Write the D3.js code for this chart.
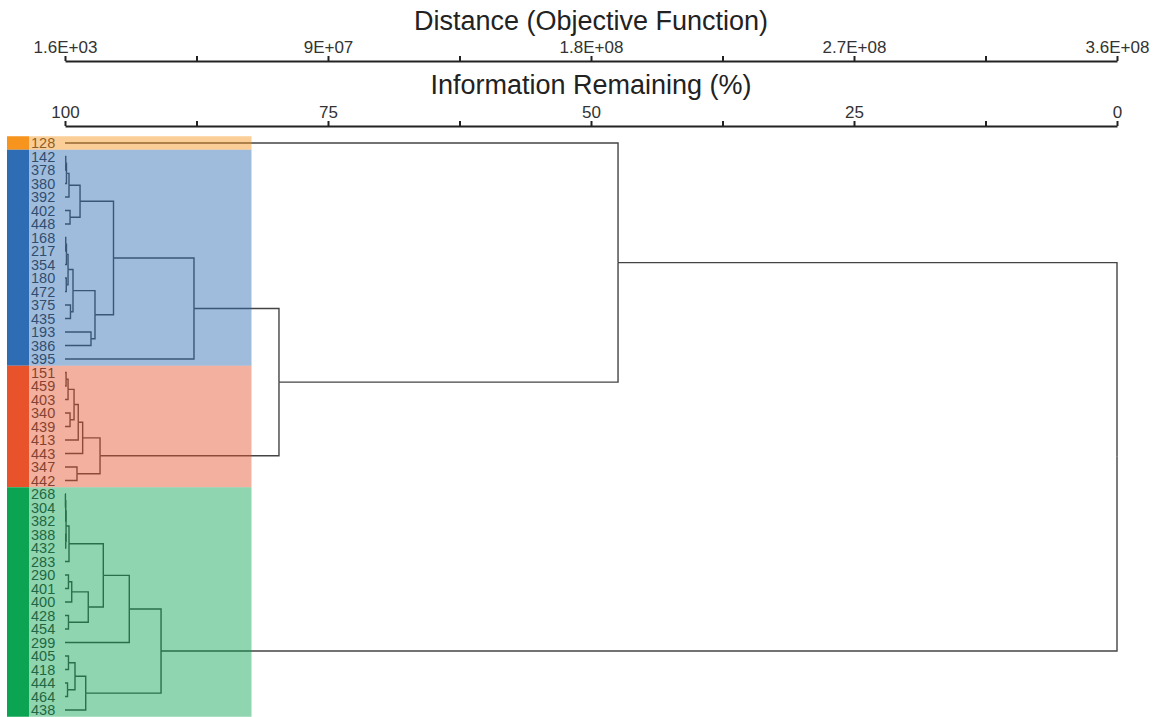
<!DOCTYPE html>
<html>
<head>
<meta charset="utf-8">
<script src="https://cdn.jsdelivr.net/npm/d3@7"></script>
<style>
  html, body { margin: 0; padding: 0; background: #fff; }
  svg { display: block; font-family: "Liberation Sans", Arial, sans-serif; }
</style>
</head>
<body>
<svg id="chart" width="1157" height="717"></svg>
<script>
// ---- Data -----------------------------------------------------------------
// Leaf order, top to bottom.
const leaves = [
  "128",
  "142", "378", "380", "392", "402", "448", "168", "217", "354", "180", "472", "375", "435", "193", "386", "395",
  "151", "459", "403", "340", "439", "413", "443", "347", "442",
  "268", "304", "382", "388", "432", "283", "290", "401", "400", "428", "454", "299", "405", "418", "444", "464", "438"
];

// Number of consecutive leaves in each cluster group.
const clusterSizes = [1, 16, 9, 17];

// Linkage: [left, right, information remaining (%) at the join]; the i-th row creates node "m" + i.
const merges = [
  ["142", "378", 99.93],   // m0
  ["m0", "380", 99.86],    // m1
  ["m1", "392", 99.62],    // m2
  ["402", "448", 99.52],   // m3
  ["m2", "m3", 98.57],     // m4
  ["168", "217", 99.93],   // m5
  ["m5", "354", 99.86],    // m6
  ["180", "472", 99.88],   // m7
  ["m6", "m7", 99.71],     // m8
  ["375", "435", 99.48],   // m9
  ["m8", "m9", 99.24],     // m10
  ["193", "386", 97.53],   // m11
  ["m10", "m11", 97.15],   // m12
  ["m4", "m12", 95.39],    // m13
  ["m13", "395", 87.74],   // m14
  ["151", "459", 99.90],   // m15
  ["m15", "403", 99.71],   // m16
  ["340", "439", 99.52],   // m17
  ["m16", "m17", 99.14],   // m18
  ["m18", "413", 98.74],   // m19
  ["m19", "443", 98.32],   // m20
  ["347", "442", 98.86],   // m21
  ["m20", "m21", 96.67],   // m22
  ["m14", "m22", 79.66],   // m23
  ["128", "m23", 47.43],   // m24
  ["268", "304", 99.96],   // m25
  ["m25", "382", 99.93],   // m26
  ["388", "432", 99.93],   // m27
  ["m26", "m27", 99.90],   // m28
  ["m28", "283", 99.62],   // m29
  ["290", "401", 99.67],   // m30
  ["m30", "400", 99.36],   // m31
  ["428", "454", 99.67],   // m32
  ["m31", "m32", 97.79],   // m33
  ["m29", "m33", 96.36],   // m34
  ["m34", "299", 93.89],   // m35
  ["405", "418", 99.67],   // m36
  ["444", "464", 99.76],   // m37
  ["m36", "m37", 99.05],   // m38
  ["m38", "438", 98.03],   // m39
  ["m35", "m39", 90.87],   // m40
  ["m24", "m40", 0.0]      // m41 (root)
];

// Axis ticks (blank label = minor tick).
const distTickValues = [1600, 4.5e7, 9e7, 1.35e8, 1.8e8, 2.25e8, 2.7e8, 3.15e8, 3.6e8];
const distTickLabels = ["1.6E+03", "", "9E+07", "", "1.8E+08", "", "2.7E+08", "", "3.6E+08"];
const infoTickValues = [100, 87.5, 75, 62.5, 50, 37.5, 25, 12.5, 0];
const infoTickLabels = ["100", "", "75", "", "50", "", "25", "", "0"];

const distTitle = "Distance (Objective Function)";
const infoTitle = "Information Remaining (%)";

// ---- Styling --------------------------------------------------------------
const clusterColors = ["#F7941D", "#2E6DB4", "#E8532B", "#0BA452"];
const bandOpacity = 0.46;
const lineColor = "#444";

// ---- Scales ---------------------------------------------------------------
const svg = d3.select("#chart");
const left = 65, right = 1117;
const xInfo = d3.scaleLinear().domain([100, 0]).range([left, right]);
const xDist = d3.scaleLinear().domain([1600, 3.6e8]).range([left, right]);
const y = d3.scalePoint().domain(leaves).range([143, 710]);
const step = y.step();

// ---- Build tree -----------------------------------------------------------
const nodes = new Map();
leaves.forEach(l => nodes.set(l, { id: l, h: 100, y: y(l) }));
merges.forEach(([a, b, h], i) => {
  const A = nodes.get(a), B = nodes.get(b);
  nodes.set("m" + i, { id: "m" + i, h, y: (A.y + B.y) / 2, children: [A, B] });
});
const root = d3.hierarchy(nodes.get("m" + (merges.length - 1)), d => d.children);

// ---- Dendrogram lines -----------------------------------------------------
svg.append("g")
  .attr("fill", "none")
  .attr("stroke", lineColor)
  .attr("stroke-width", 1.4)
  .selectAll("path")
  .data(root.links())
  .join("path")
  .attr("d", l => `M${xInfo(l.target.data.h)},${l.target.data.y}H${xInfo(l.source.data.h)}V${l.source.data.y}`);

// ---- Leaf labels ----------------------------------------------------------
svg.append("g")
  .selectAll("text")
  .data(leaves)
  .join("text")
  .attr("x", 31)
  .attr("y", d => y(d))
  .attr("dy", "0.36em")
  .attr("font-size", 14.5)
  .attr("fill", "#333")
  .text(d => d);

// ---- Cluster bands and colour strips --------------------------------------
let start = 0;
const groups = clusterSizes.map((n, i) => {
  const g = { first: leaves[start], last: leaves[start + n - 1], color: clusterColors[i] };
  start += n;
  return g;
});
const bandTop = g => y(g.first) - step / 2;
const bandBottom = g => y(g.last) + step / 2;

svg.append("g")
  .selectAll("rect")
  .data(groups)
  .join("rect")
  .attr("x", 29)
  .attr("width", 251.5 - 29)
  .attr("y", bandTop)
  .attr("height", g => bandBottom(g) - bandTop(g))
  .attr("fill", g => g.color)
  .attr("fill-opacity", bandOpacity);

svg.append("g")
  .selectAll("rect")
  .data(groups)
  .join("rect")
  .attr("x", 7)
  .attr("width", 22)
  .attr("y", bandTop)
  .attr("height", g => bandBottom(g) - bandTop(g))
  .attr("fill", g => g.color);

// ---- Axes -----------------------------------------------------------------
function styleAxis(g) {
  g.attr("font-family", null).attr("font-size", null);
  g.select(".domain").attr("stroke", "#222").attr("stroke-width", 2);
  g.selectAll(".tick line").attr("stroke", "#222").attr("stroke-width", 2);
  g.selectAll(".tick text").attr("font-size", 17).attr("fill", "#333");
}

svg.append("g")
  .attr("transform", "translate(0,61)")
  .call(d3.axisTop(xDist)
    .tickValues(distTickValues)
    .tickFormat((d, i) => distTickLabels[i])
    .tickSize(5).tickSizeOuter(0).tickPadding(3))
  .call(styleAxis);

svg.append("g")
  .attr("transform", "translate(0,126)")
  .call(d3.axisTop(xInfo)
    .tickValues(infoTickValues)
    .tickFormat((d, i) => infoTickLabels[i])
    .tickSize(5).tickSizeOuter(0).tickPadding(3))
  .call(styleAxis);

svg.append("text")
  .attr("x", (left + right) / 2).attr("y", 30)
  .attr("text-anchor", "middle").attr("font-size", 27).attr("fill", "#222")
  .text(distTitle);

svg.append("text")
  .attr("x", (left + right) / 2).attr("y", 94)
  .attr("text-anchor", "middle").attr("font-size", 27).attr("fill", "#222")
  .text(infoTitle);
</script>
</body>
</html>
